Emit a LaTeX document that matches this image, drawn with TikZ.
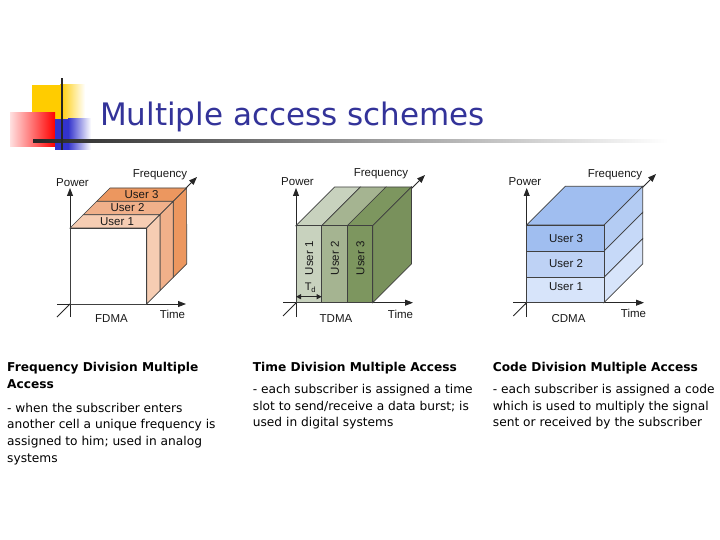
\documentclass[tikz,border=0pt]{standalone}
\usepackage{fontspec}
\setmainfont{DejaVu Sans}
\newfontfamily\arialfont{Liberation Sans}
\usetikzlibrary{arrows.meta}

\definecolor{titleblue}{HTML}{333399}
\definecolor{decoyellow}{HTML}{FFCC00}
\definecolor{decoblue}{HTML}{3333CC}
\definecolor{fdmaA}{HTML}{F6CDB3}
\definecolor{fdmaB}{HTML}{F0B08A}
\definecolor{fdmaC}{HTML}{EC975F}
\definecolor{tdmaA}{HTML}{C8D2BE}
\definecolor{tdmaB}{HTML}{A5B491}
\definecolor{tdmaC}{HTML}{7D965F}
\definecolor{cdmaA}{HTML}{D7E4FA}
\definecolor{cdmaB}{HTML}{BED2F5}
\definecolor{cdmaC}{HTML}{A0BEF0}
\definecolor{cdmaSideA}{HTML}{D7E4FA}
\definecolor{cdmaSideB}{HTML}{C6D9F8}
\definecolor{cdmaSideC}{HTML}{B4CCF3}

\tikzset{
  axis/.style={draw=black!85, line width=0.9pt, -{Triangle[length=8pt,width=6pt]}},
  face/.style={draw=black!75, line width=0.7pt},
  lbl/.style={inner sep=0pt, text=black!90, font=\arialfont\fontsize{11.5}{13}\selectfont},
  body/.style={anchor=base west, inner sep=0pt, font=\fontsize{12.2}{16}\selectfont},
  head/.style={anchor=base west, inner sep=0pt, font=\bfseries\fontsize{12.2}{16}\selectfont}
}

\begin{document}
\begin{tikzpicture}[x=1pt,y=-1pt]
  \useasboundingbox (0,0) rectangle (720,540);

  % title decoration
  \fill[decoyellow] (32,85) rectangle (60,120);
  \fill[left color=decoyellow, right color=white] (60,85) rectangle (85,120);
  \fill[left color=red!12, right color=red] (10,113) rectangle (55,147);
  \fill[decoblue] (55,119) rectangle (68,150);
  \fill[left color=decoblue, right color=white] (68,119) rectangle (91,150);
  \fill[left color=black!85, right color=white] (33,139.8) rectangle (668,142.2);
  \fill[black!85] (60.7,78) rectangle (62.7,150);

  \node[anchor=base west, inner sep=0pt, text=titleblue, font=\fontsize{31}{37}\selectfont] (title) at (100,126) {Multiple access schemes};

  % FDMA
  \coordinate (fo) at (70,304);
  \coordinate (fpbot) at (70,317);
  \coordinate (fptip) at (70,188);
  \coordinate (ftbot) at (57,304);
  \coordinate (fttip) at (186,304);
  \coordinate (ffbot) at (57,317);
  \coordinate (fftip) at (197,177);
  \draw[axis] (fpbot) -- (fptip);
  \draw[axis] (ftbot) -- (fttip);
  \draw[axis] (ffbot) -- (fftip);

  \filldraw[face, fill=fdmaC] (96.7,201.3) -- ++(76.7,0) -- ++(13.3,-13.3) -- ++(-76.7,0) -- cycle;
  \filldraw[face, fill=fdmaC] (173.3,277.3) -- (173.3,201.3) -- ++(13.3,-13.3) -- (186.7,264) -- cycle;
  \filldraw[face, fill=fdmaB] (83.3,214.7) -- ++(76.7,0) -- ++(13.3,-13.3) -- ++(-76.7,0) -- cycle;
  \filldraw[face, fill=fdmaB] (160,290.7) -- (160,214.7) -- ++(13.3,-13.3) -- (173.3,277.3) -- cycle;
  \filldraw[face, fill=fdmaA] (70,228) -- ++(76.7,0) -- ++(13.3,-13.3) -- ++(-76.7,0) -- cycle;
  \filldraw[face, fill=fdmaA] (146.7,304) -- (146.7,228) -- ++(13.3,-13.3) -- (160,290.7) -- cycle;
  \filldraw[face, fill=white] (70,228) rectangle (146.7,304);

  \node[lbl] (fu3) at (141.5,194.5) {User 3};
  \node[lbl] (fu2) at (127.5,207.8) {User 2};
  \node[lbl] (fu1) at (117,221.2) {User 1};
  \node[lbl] (fpow) at (72.5,182.5) {Power};
  \node[lbl] (ffreq) at (160,175) {Frequency};
  \node[lbl] (ftime) at (172.5,314) {Time};
  \node[lbl] (fname) at (111.5,318.5) {FDMA};

  % TDMA
  \coordinate (to) at (296,302.7);
  \coordinate (tpbot) at (296,317);
  \coordinate (tptip) at (296,188);
  \coordinate (ttbot) at (283,302.7);
  \coordinate (tttip) at (413,302.7);
  \coordinate (tfbot) at (283,316);
  \coordinate (tftip) at (425,175);
  \draw[axis] (tpbot) -- (tptip);
  \draw[axis] (ttbot) -- (tttip);
  \draw[axis] (tfbot) -- (tftip);

  \filldraw[face, fill=tdmaA] (296,225.7) -- (321.7,225.7) -- ++(38.7,-38.7) -- ++(-25.7,0) -- cycle;
  \filldraw[face, fill=tdmaB] (321.7,225.7) -- (347.3,225.7) -- ++(38.7,-38.7) -- ++(-25.6,0) -- cycle;
  \filldraw[face, fill=tdmaC] (347.3,225.7) -- (372.7,225.7) -- ++(38.7,-38.7) -- ++(-25.4,0) -- cycle;
  \filldraw[face, fill=tdmaC!97!black] (372.7,302.7) -- (372.7,225.7) -- ++(38.7,-38.7) -- ++(0,77) -- cycle;
  \filldraw[face, fill=tdmaA] (296,225.7) rectangle (321.7,302.7);
  \filldraw[face, fill=tdmaB] (321.7,225.7) rectangle (347.3,302.7);
  \filldraw[face, fill=tdmaC] (347.3,225.7) rectangle (372.7,302.7);

  \node[lbl, rotate=90] (tu1) at (309.3,258.3) {User 1};
  \node[lbl, rotate=90] (tu2) at (335,258.3) {User 2};
  \node[lbl, rotate=90] (tu3) at (360.5,258.3) {User 3};
  \coordinate (tdl) at (296,296.7);
  \coordinate (tdr) at (321.7,296.7);
  \draw[black!85, line width=0.9pt, {Triangle[length=5pt,width=5pt]}-{Triangle[length=5pt,width=5pt]}] (tdl) -- (tdr);
  \node[lbl, font=\arialfont\fontsize{11}{12}\selectfont] (tdlbl) at (310.5,287.5) {T\textsubscript{d}};
  \node[lbl] (tpow) at (297.5,182) {Power};
  \node[lbl] (tfreq) at (381,174) {Frequency};
  \node[lbl] (ttime) at (400.5,314) {Time};
  \node[lbl] (tname) at (336,318.5) {TDMA};

  % CDMA
  \coordinate (co) at (526.7,302.7);
  \coordinate (cpbot) at (526.7,317);
  \coordinate (cptip) at (526.7,188);
  \coordinate (ctbot) at (513,302.7);
  \coordinate (cttip) at (644,302.7);
  \coordinate (cfbot) at (513.3,316);
  \coordinate (cftip) at (656,174);
  \draw[axis] (cpbot) -- (cptip);
  \draw[axis] (ctbot) -- (cttip);
  \draw[axis] (cfbot) -- (cftip);

  \filldraw[face, fill=cdmaC] (526.7,225) -- (604,225) -- ++(38.7,-38.7) -- ++(-77.3,0) -- cycle;
  \filldraw[face, fill=cdmaSideC] (604,251) -- (604,225) -- ++(38.7,-38.7) -- ++(0,26) -- cycle;
  \filldraw[face, fill=cdmaSideB] (604,277.3) -- (604,251) -- ++(38.7,-38.7) -- ++(0,26.3) -- cycle;
  \filldraw[face, fill=cdmaSideA] (604,302.7) -- (604,277.3) -- ++(38.7,-38.7) -- ++(0,25.4) -- cycle;
  \filldraw[face, fill=cdmaC] (526.7,225) rectangle (604,251);
  \filldraw[face, fill=cdmaB] (526.7,251) rectangle (604,277.3);
  \filldraw[face, fill=cdmaA] (526.7,277.3) rectangle (604,302.7);

  \node[lbl] (cu3) at (566,239) {User 3};
  \node[lbl] (cu2) at (566,264) {User 2};
  \node[lbl] (cu1) at (566,286.5) {User 1};
  \node[lbl] (cpow) at (525,181.5) {Power};
  \node[lbl] (cfreq) at (615,174.5) {Frequency};
  \node[lbl] (ctime) at (633.5,313.5) {Time};
  \node[lbl] (cname) at (568.5,318.5) {CDMA};

  % texts
  \node[head] (fhead1) at (7,371.5) {Frequency Division Multiple};
  \node[head] (fhead2) at (7,388.2) {Access};
  \node[body] (ftxt1) at (7,412) {- when the subscriber enters};
  \node[body] (ftxt2) at (7,428.8) {another cell a unique frequency is};
  \node[body] (ftxt3) at (7,445.6) {assigned to him; used in analog};
  \node[body] (ftxt4) at (7,462.4) {systems};

  \node[head] (thead) at (252.7,371.5) {Time Division Multiple Access};
  \node[body] (ttxt1) at (252.7,393.2) {- each subscriber is assigned a time};
  \node[body] (ttxt2) at (252.7,410) {slot to send/receive a data burst; is};
  \node[body] (ttxt3) at (252.7,426.8) {used in digital systems};

  \node[head] (chead) at (492.7,371.5) {Code Division Multiple Access};
  \node[body] (ctxt1) at (492.7,393.2) {- each subscriber is assigned a code};
  \node[body] (ctxt2) at (492.7,410) {which is used to multiply the signal};
  \node[body] (ctxt3) at (492.7,426.8) {sent or received by the subscriber};
\end{tikzpicture}
\end{document}
